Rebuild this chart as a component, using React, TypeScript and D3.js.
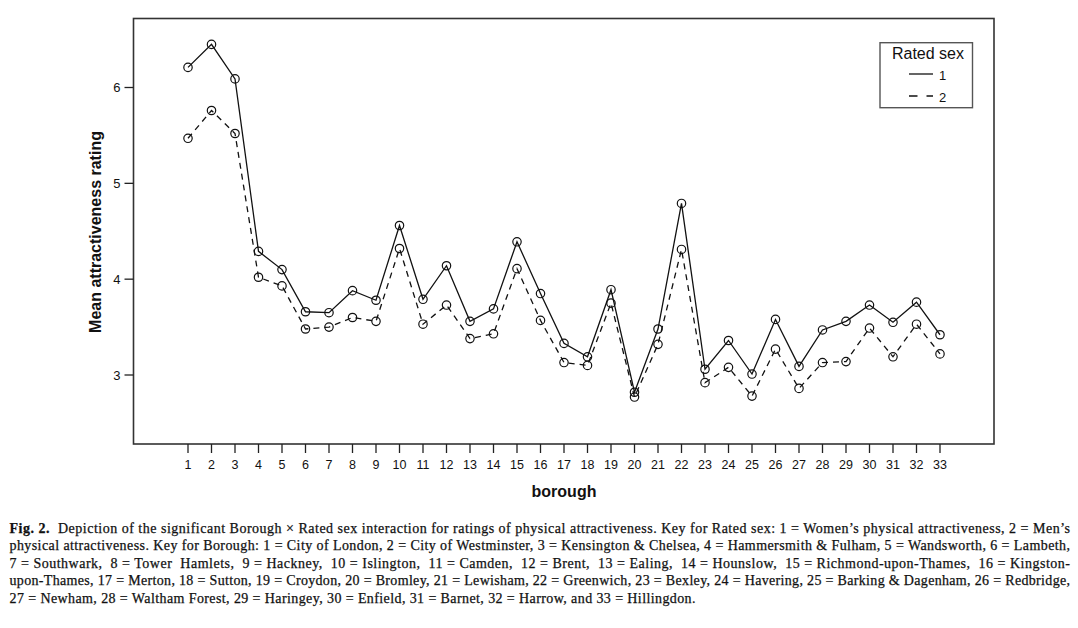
import React from "react";
import * as d3 from "d3";

const boroughs = [1, 2, 3, 4, 5, 6, 7, 8, 9, 10, 11, 12, 13, 14, 15, 16, 17, 18, 19, 20, 21, 22, 23, 24, 25, 26, 27, 28, 29, 30, 31, 32, 33];
const sex1 = [6.21, 6.45, 6.09, 4.29, 4.10, 3.66, 3.65, 3.88, 3.78, 4.56, 3.79, 4.14, 3.56, 3.69, 4.39, 3.85, 3.33, 3.19, 3.89, 2.82, 3.48, 4.79, 3.06, 3.36, 3.01, 3.58, 3.09, 3.47, 3.56, 3.73, 3.55, 3.76, 3.42];
const sex2 = [5.47, 5.76, 5.52, 4.02, 3.93, 3.48, 3.50, 3.60, 3.56, 4.32, 3.53, 3.73, 3.38, 3.43, 4.11, 3.57, 3.13, 3.10, 3.75, 2.77, 3.32, 4.31, 2.92, 3.08, 2.78, 3.27, 2.86, 3.13, 3.14, 3.49, 3.19, 3.53, 3.22];
const yTicks = [3, 4, 5, 6];
const legendTitle = "Rated sex";
const legendLabels = ["1", "2"];
const xTitle = "borough";
const yTitle = "Mean attractiveness rating";
const captionLines = [
  "Depiction of the significant Borough \u00d7 Rated sex interaction for ratings of physical attractiveness. Key for Rated sex: 1 = Women\u2019s physical attractiveness, 2 = Men\u2019s",
  "physical attractiveness. Key for Borough: 1 = City of London, 2 = City of Westminster, 3 = Kensington & Chelsea, 4 = Hammersmith & Fulham, 5 = Wandsworth, 6 = Lambeth,",
  "7 = Southwark,  8 = Tower  Hamlets,  9 = Hackney,  10 = Islington,  11 = Camden,  12 = Brent,  13 = Ealing,  14 = Hounslow,  15 = Richmond-upon-Thames,  16 = Kingston-",
  "upon-Thames, 17 = Merton, 18 = Sutton, 19 = Croydon, 20 = Bromley, 21 = Lewisham, 22 = Greenwich, 23 = Bexley, 24 = Havering, 25 = Barking & Dagenham, 26 = Redbridge,",
  "27 = Newham, 28 = Waltham Forest, 29 = Haringey, 30 = Enfield, 31 = Barnet, 32 = Harrow, and 33 = Hillingdon.",
];

export default function App() {
  const W = 1078;
  const H = 628;
  const frame = { left: 133.5, top: 18.5, right: 994, bottom: 444 };
  const x = d3.scaleLinear().domain([1, 33]).range([188, 940]);
  const y = d3.scaleLinear().domain([3, 6]).range([375, 87.5]);

  const line = d3
    .line<number>()
    .x((_, i) => x(boroughs[i]))
    .y((d) => y(d));

  const sans = "'Liberation Sans', Arial, sans-serif";
  const serif = "'Liberation Serif', 'Times New Roman', serif";

  const capLeft = 9.5;
  const capWidth = 1060.5;
  const capBase = [532.5, 550, 567.5, 585, 602.5];
  const capLens = [capWidth, capWidth, capWidth, capWidth, 686];

  return (
    <svg
      width={W}
      height={H}
      viewBox={`0 0 ${W} ${H}`}
      style={{ position: "absolute", left: 0, top: 0, background: "#fff" }}
    >
      <rect x={0} y={0} width={W} height={H} fill="#fff" />
      {/* frame */}
      <rect
        x={frame.left}
        y={frame.top}
        width={frame.right - frame.left}
        height={frame.bottom - frame.top}
        fill="none"
        stroke="#333"
        strokeWidth={1.6}
      />
      {/* y axis ticks */}
      {yTicks.map((t) => (
        <g key={`yt${t}`}>
          <line x1={frame.left - 9} x2={frame.left} y1={y(t)} y2={y(t)} stroke="#222" strokeWidth={1.3} />
          <text x={frame.left - 13} y={y(t)} dy="0.35em" textAnchor="end" fontFamily={sans} fontSize={13} fill="#111">
            {t}
          </text>
        </g>
      ))}
      {/* x axis ticks */}
      {boroughs.map((b) => (
        <g key={`xt${b}`}>
          <line x1={x(b)} x2={x(b)} y1={frame.bottom} y2={frame.bottom + 9} stroke="#222" strokeWidth={1.3} />
          <text x={x(b)} y={465} dy="0.35em" textAnchor="middle" fontFamily={sans} fontSize={12.5} fill="#111">
            {b}
          </text>
        </g>
      ))}
      {/* axis titles */}
      <text x={564} y={491} dy="0.35em" textAnchor="middle" fontFamily={sans} fontSize={16} fontWeight="bold" fill="#111">
        {xTitle}
      </text>
      <text
        transform={`translate(95,232) rotate(-90)`}
        dy="0.35em"
        textAnchor="middle"
        fontFamily={sans}
        fontSize={16}
        fontWeight="bold"
        fill="#111"
      >
        {yTitle}
      </text>
      {/* series lines */}
      <path d={line(sex1) || ""} fill="none" stroke="#111" strokeWidth={1.3} />
      <path d={line(sex2) || ""} fill="none" stroke="#111" strokeWidth={1.3} strokeDasharray="6,5" />
      {/* markers */}
      {sex1.map((v, i) => (
        <circle key={`a${i}`} cx={x(boroughs[i])} cy={y(v)} r={4.2} fill="none" stroke="#111" strokeWidth={1.2} />
      ))}
      {sex2.map((v, i) => (
        <circle key={`b${i}`} cx={x(boroughs[i])} cy={y(v)} r={4.2} fill="none" stroke="#111" strokeWidth={1.2} />
      ))}
      {/* legend */}
      <rect x={880} y={42.7} width={92.5} height={65} fill="#fff" stroke="#555" strokeWidth={1.4} />
      <text x={928} y={53.5} dy="0.35em" textAnchor="middle" fontFamily={sans} fontSize={16} fill="#111">
        {legendTitle}
      </text>
      <line x1={909} x2={933} y1={74} y2={74} stroke="#111" strokeWidth={1.3} />
      <text x={939} y={75} dy="0.35em" fontFamily={sans} fontSize={13} fill="#111">
        {legendLabels[0]}
      </text>
      <line x1={909} x2={933} y1={96} y2={96} stroke="#111" strokeWidth={1.3} strokeDasharray="8.5,9" />
      <text x={939} y={97} dy="0.35em" fontFamily={sans} fontSize={13} fill="#111">
        {legendLabels[1]}
      </text>
      {/* caption */}
      {captionLines.map((ln, i) => (
        <text
          key={`c${i}`}
          x={capLeft}
          y={capBase[i]}
          fontFamily={serif}
          fontSize={14}
          fill="#111"
          stroke="#111"
          strokeWidth={0.25}
          textLength={capLens[i]}
          lengthAdjust="spacing"
          xmlSpace="preserve"
        >
          {i === 0 ? (
            <>
              <tspan fontWeight="bold">Fig. 2.</tspan>
              <tspan>{"  " + ln}</tspan>
            </>
          ) : (
            ln
          )}
        </text>
      ))}
    </svg>
  );
}
